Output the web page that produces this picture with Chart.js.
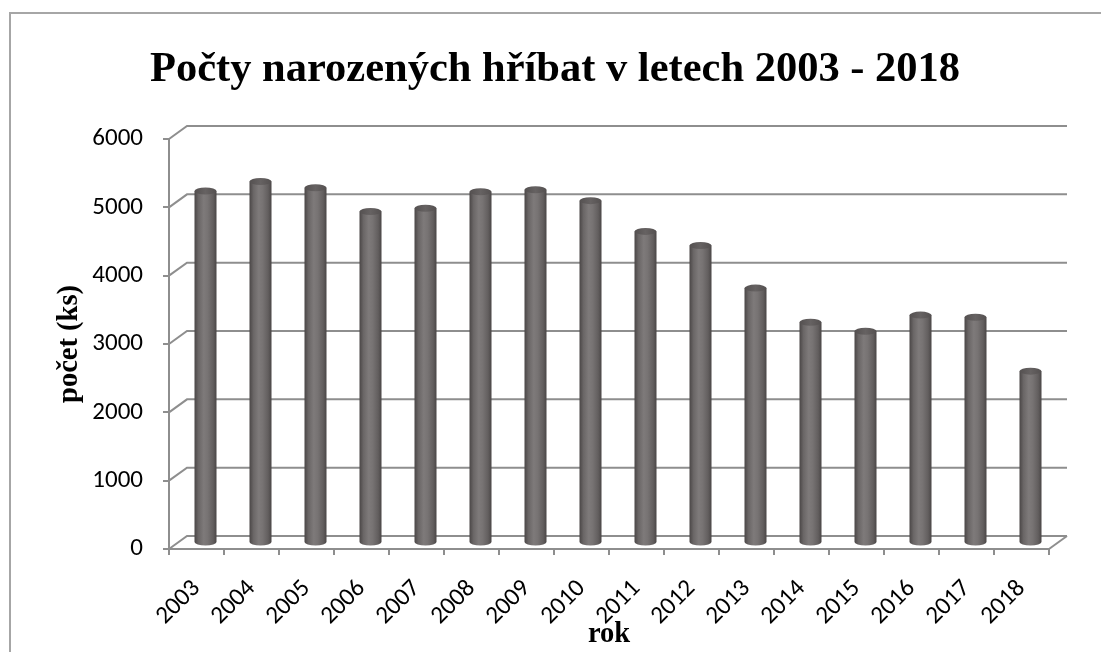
<!DOCTYPE html>
<html>
<head>
<meta charset="utf-8">
<script src="https://cdn.jsdelivr.net/npm/chart.js@4.4.1/dist/chart.umd.min.js"></script>
<style>
  html, body { margin: 0; padding: 0; background: #fff; }
  #wrap { width: 1101px; height: 652px; }
</style>
</head>
<body>
<div id="wrap"><canvas id="chart" width="1101" height="652"></canvas></div>
<script>
// data
const years = ['2003', '2004', '2005', '2006', '2007', '2008', '2009', '2010',
               '2011', '2012', '2013', '2014', '2015', '2016', '2017', '2018'];
const births = [5150, 5290, 5200, 4850, 4900, 5140, 5170, 5010,
                4560, 4355, 3730, 3230, 3100, 3335, 3305, 2515];

const GRID = '#8e8e8e';
const DEPTH_X = 18, DEPTH_Y = -13;   // back wall offset
const BAR_DX = 9, BAR_DY = -6;       // bars sit half way into the depth
const BAR_PCT = 0.4;
const TICK_FONT = { family: "Carlito, Lato, sans-serif", size: 25 };
const SERIF = "'Liberation Serif', 'Times New Roman', serif";

function bodyGradient(ctx, x, w) {
  const g = ctx.createLinearGradient(x - w / 2, 0, x + w / 2, 0);
  g.addColorStop(0, '#4a4646');
  g.addColorStop(0.18, '#6a6666');
  g.addColorStop(0.42, '#7e7a7a');
  g.addColorStop(0.6, '#777373');
  g.addColorStop(0.85, '#625e5e');
  g.addColorStop(1, '#4a4646');
  return g;
}

// pseudo 3D: back wall, floor, shifted cylinders
const excel3d = {
  id: 'excel3d',
  beforeDraw(chart) {
    const ctx = chart.ctx;
    ctx.save();
    ctx.fillStyle = '#fff';
    ctx.fillRect(0, 0, chart.width, chart.height);
    ctx.strokeStyle = '#a6a6a6';
    ctx.lineWidth = 2;
    ctx.beginPath();
    ctx.moveTo(10, chart.height);
    ctx.lineTo(10, 13);
    ctx.lineTo(chart.width, 13);
    ctx.stroke();
    ctx.restore();
  },
  beforeDatasetsDraw(chart) {
    const { ctx, chartArea: a, scales: { y } } = chart;
    ctx.save();
    ctx.strokeStyle = GRID;
    ctx.lineWidth = 2;
    y.ticks.forEach(t => {
      const py = y.getPixelForValue(t.value);
      ctx.beginPath();
      ctx.moveTo(a.left, py);
      ctx.lineTo(a.left + DEPTH_X, py + DEPTH_Y);
      ctx.lineTo(a.right + DEPTH_X, py + DEPTH_Y);
      ctx.stroke();
    });
    const p0 = y.getPixelForValue(0);
    ctx.beginPath();
    ctx.moveTo(a.right + DEPTH_X, p0 + DEPTH_Y);
    ctx.lineTo(a.right, p0);
    ctx.stroke();
    ctx.restore();

    ctx.save();
    ctx.translate(BAR_DX, BAR_DY);
  },
  afterDatasetsDraw(chart) {
    const ctx = chart.ctx;
    chart.getDatasetMeta(0).data.forEach(el => {
      const r = el.width / 2;
      ctx.fillStyle = bodyGradient(ctx, el.x, el.width);
      ctx.beginPath();
      ctx.ellipse(el.x, el.base, r, 3.5, 0, 0, Math.PI);
      ctx.fill();
      const cap = ctx.createLinearGradient(el.x - r, 0, el.x + r, 0);
      cap.addColorStop(0, '#545050');
      cap.addColorStop(0.5, '#666262');
      cap.addColorStop(1, '#545050');
      ctx.fillStyle = cap;
      ctx.beginPath();
      ctx.ellipse(el.x, el.y, r, 3.5, 0, 0, Math.PI * 2);
      ctx.fill();
    });
    ctx.restore();
  }
};

const ctx = document.getElementById('chart').getContext('2d');

new Chart(ctx, {
  type: 'bar',
  data: {
    labels: years,
    datasets: [{
      data: births,
      backgroundColor: (c) => {
        const ch = c.chart;
        if (!ch.chartArea || c.dataIndex === undefined) return '#706c6c';
        const xs = ch.scales.x;
        const w = xs.width / years.length * BAR_PCT;
        return bodyGradient(ch.ctx, xs.getPixelForValue(c.dataIndex), w);
      },
      borderWidth: 0,
      barPercentage: BAR_PCT,
      categoryPercentage: 1,
      clip: false
    }]
  },
  options: {
    responsive: false,
    animation: false,
    layout: { padding: { left: 9, right: 0, top: 0, bottom: 0 } },
    plugins: {
      legend: { display: false },
      tooltip: { enabled: false },
      title: {
        display: true,
        text: 'Počty narozených hříbat v letech 2003 - 2018',
        color: '#000',
        font: { family: SERIF, size: 42.5, weight: 'bold' },
        padding: { top: 45, bottom: 43 }
      }
    },
    scales: {
      x: {
        grid: { offset: true, drawOnChartArea: false, tickLength: 6, color: GRID, lineWidth: 2 },
        border: { display: true, color: GRID, width: 2 },
        ticks: {
          autoSkip: false,
          minRotation: 45,
          maxRotation: 45,
          padding: 19,
          color: '#000',
          font: TICK_FONT
        },
        title: {
          display: true,
          text: 'rok',
          color: '#000',
          font: { family: SERIF, size: 28.5, weight: 'bold' },
          padding: { top: 0, bottom: 0 }
        },
        afterFit: (s) => { s.height = 103; }
      },
      y: {
        min: 0,
        max: 6000,
        grid: { drawOnChartArea: false, tickLength: 6, color: GRID, lineWidth: 2 },
        border: { display: true, color: GRID, width: 2 },
        ticks: {
          stepSize: 1000,
          padding: 20,
          color: '#000',
          font: TICK_FONT,
          callback: (v) => String(v)
        },
        title: {
          display: true,
          text: 'počet (ks)',
          color: '#000',
          font: { family: SERIF, size: 28.5, weight: 'bold' },
          padding: { top: 44, bottom: 0 }
        },
        afterFit: (s) => { s.width = 160; }
      },
      // empty right axis, only keeps the title centred like the original
      y2: {
        position: 'right',
        grid: { display: false },
        border: { display: false },
        ticks: { display: false },
        afterFit: (s) => { s.width = 52; }
      }
    }
  },
  plugins: [excel3d]
});
</script>
</body>
</html>
